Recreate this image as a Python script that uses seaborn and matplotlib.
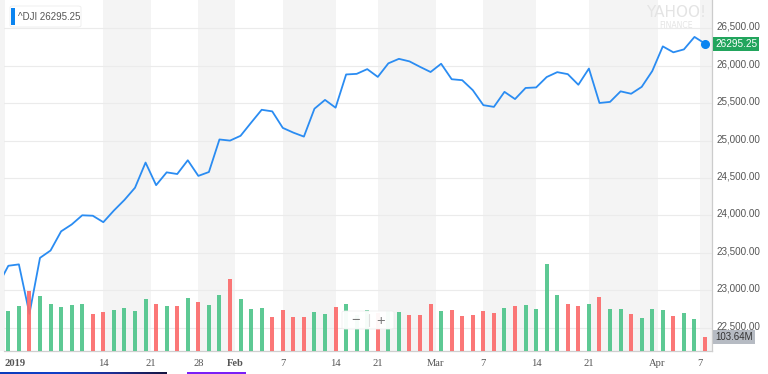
import numpy as np
import pandas as pd
import matplotlib
matplotlib.use("Agg")
import matplotlib.pyplot as plt
import matplotlib.transforms as mtrans
from matplotlib.patches import Rectangle, FancyBboxPatch
from matplotlib.colors import LinearSegmentedColormap
import seaborn as sns

# ---------------- data ----------------
dates = ["Dec 28", "Dec 31",
         "Jan 2", "Jan 3", "Jan 4", "Jan 7", "Jan 8", "Jan 9", "Jan 10", "Jan 11",
         "Jan 14", "Jan 15", "Jan 16", "Jan 17", "Jan 18", "Jan 22", "Jan 23", "Jan 24",
         "Jan 25", "Jan 28", "Jan 29", "Jan 30", "Jan 31",
         "Feb 1", "Feb 4", "Feb 5", "Feb 6", "Feb 7", "Feb 8", "Feb 11", "Feb 12", "Feb 13",
         "Feb 14", "Feb 15", "Feb 19", "Feb 20", "Feb 21", "Feb 22", "Feb 25", "Feb 26",
         "Feb 27", "Feb 28",
         "Mar 1", "Mar 4", "Mar 5", "Mar 6", "Mar 7", "Mar 8", "Mar 11", "Mar 12", "Mar 13",
         "Mar 14", "Mar 15", "Mar 18", "Mar 19", "Mar 20", "Mar 21", "Mar 22", "Mar 25",
         "Mar 26", "Mar 27", "Mar 28", "Mar 29",
         "Apr 1", "Apr 2", "Apr 3", "Apr 4", "Apr 8"]

closes = [23062.40, 23327.46,
          23346.24, 22686.22, 23433.16, 23531.35, 23787.45, 23879.12, 24001.92, 23995.95,
          23909.84, 24065.59, 24207.16, 24370.10, 24706.35, 24404.48, 24575.62, 24553.24,
          24737.20, 24528.22, 24579.96, 25014.86, 24999.67,
          25063.89, 25239.37, 25411.52, 25390.30, 25169.53, 25106.33, 25053.11, 25425.76,
          25543.27, 25439.39, 25883.25, 25891.32, 25954.44, 25850.63, 26031.81, 26091.95,
          26057.98, 25985.16, 25916.00,
          26026.32, 25819.65, 25806.63, 25673.46, 25473.23, 25450.24, 25650.88, 25554.66,
          25702.89, 25709.94, 25848.87, 25914.10, 25887.38, 25745.67, 25962.51, 25502.32,
          25516.83, 25657.73, 25625.59, 25717.46, 25928.68,
          26258.42, 26179.13, 26218.13, 26384.63, 26295.25]

# volume in millions, Dec 31 .. Apr 8 (no bar for Dec 28)
volumes = [298, 333, 446, 409, 350, 328, 340, 350, 274, 289,
           306, 318, 300, 387, 350, 335, 335, 394, 363, 345,
           417, 535, 387, 313, 323, 256, 306, 256, 252, 289,
           274, 326, 348, 266, 305, 280, 296, 293, 266, 266,
           348, 298, 306, 261, 266, 298, 281, 320, 333, 343,
           315, 644, 414, 352, 333, 348, 404, 315, 315, 276,
           244, 311, 306, 259, 281, 239, 103.64]

# x-axis labels placed on the trading-day index (holidays/weekends between days)
tick_labels = ["2019", "14", "21", "28", "Feb", "7", "14", "21", "Mar", "7", "14", "21", "Apr", "7"]
tick_pos = [-0.35, 9, 13.5, 18, 21.5, 26, 31, 35, 40.5, 45, 50, 55, 61.5, 65.5]
price_ticks = [22500, 23000, 23500, 24000, 24500, 25000, 25500, 26000, 26500]

# ---------------- frames ----------------
pos = np.arange(len(closes)) - 1          # Dec 28 sits just left of view
df_price = pd.DataFrame({"pos": pos, "close": closes, "date": dates})
chg = np.diff(np.array(closes))
df_vol = pd.DataFrame({"pos": pos[1:], "volume": volumes,
                       "dir": np.where(chg >= 0, "up", "down")})

# ---------------- style ----------------
sns.set_style("white")
plt.rcParams["font.family"] = ["Liberation Sans", "DejaVu Sans"]

W, H = 768, 374
fig = plt.figure(figsize=(W / 100, H / 100), dpi=100)

def fx(px):
    return px / W

def fy(py):
    return 1 - py / H

ax_left, ax_right, ax_bottom = 4, 712, 351.3
ax = fig.add_axes([fx(ax_left), fy(ax_bottom), fx(ax_right - ax_left), ax_bottom / H])

XMIN, XMAX = -0.41, 66.66
YMIN, YMAX = 22185, 26878

GRAY_BAND = "#f4f4f4"
LINE = "#2a8cf2"
GREEN = "#4fc58b"
RED = "#fb6b6b"

# weekly alternating background bands
bounds = [XMIN] + tick_pos + [XMAX]
for k in range(len(bounds) - 1):
    if k % 2 == 0:
        ax.axvspan(bounds[k], bounds[k + 1], color=GRAY_BAND, lw=0, zorder=0)
fig.patches.append(Rectangle((0, fy(ax_bottom)), fx(ax_left), ax_bottom / H,
                             transform=fig.transFigure, color=GRAY_BAND, lw=0))

for v in price_ticks:
    ax.axhline(v, color="#ebebeb", lw=0.8, zorder=1)

sns.lineplot(data=df_price, x="pos", y="close", ax=ax, color=LINE, lw=1.3, zorder=3)

ax.set_xlim(XMIN, XMAX)
ax.set_ylim(YMIN, YMAX)

# volume overlay
ax_v = ax.twinx()
sns.barplot(data=df_vol, x="pos", y="volume", hue="dir", native_scale=True,
            palette={"up": GREEN, "down": RED}, dodge=False, width=0.38,
            saturation=1, errorbar=None, legend=False, ax=ax_v, alpha=0.92,
            linewidth=0)
ax_v.set_ylim(0, 2600)
ax_v.set_xlim(XMIN, XMAX)
ax_v.set_yticks([])
ax_v.set_ylabel("")
ax_v.set_xlabel("")
for s in ax_v.spines.values():
    s.set_visible(False)
ax_v.patch.set_visible(False)

# last price dot
ax.plot(df_price["pos"].iloc[-1], df_price["close"].iloc[-1], "o", ms=5.5,
        color="#0a84f0", zorder=6, clip_on=False)

# axes styling
for s in ["top", "left"]:
    ax.spines[s].set_visible(False)
ax.spines["bottom"].set_color("#cfcfcf")
ax.spines["right"].set_color("#cccccc")
ax.spines["bottom"].set_linewidth(0.9)
ax.spines["right"].set_linewidth(0.9)
ax.set_xlabel("")
ax.set_ylabel("")

ax.yaxis.tick_right()
ax.set_yticks(price_ticks)
ax.set_yticklabels([f"{v:,.2f}" for v in price_ticks])
ax.tick_params(axis="y", length=0, pad=3, labelsize=7.1, labelcolor="#555555")
for lab in ax.get_yticklabels():
    lab.set_fontfamily(["Liberation Sans", "DejaVu Sans"])
    lab.set_transform(lab.get_transform() + mtrans.ScaledTranslation(0, 2.5 / 100, fig.dpi_scale_trans))

ax.set_xticks(tick_pos)
ax.set_xticklabels(tick_labels)
ax.tick_params(axis="x", length=3, width=0.8, color="#cccccc", pad=2.5,
               labelsize=7.6, labelcolor="#555555")
for lab in ax.get_xticklabels():
    lab.set_fontfamily(["Liberation Serif", "DejaVu Serif"])
    if lab.get_text() in ("2019", "Feb"):
        lab.set_fontweight("bold")
    if lab.get_text() == "2019":
        lab.set_horizontalalignment("left")

# price tag on the right axis
last_close = closes[-1]
ax.annotate(f"{last_close:.2f}", xy=(1, last_close), xycoords=ax.get_yaxis_transform(),
            xytext=(2.2, 0), textcoords="offset points", ha="left", va="center",
            fontsize=7.2, color="white", annotation_clip=False, zorder=10,
            bbox=dict(boxstyle="square,pad=0.2", fc="#22a55d", ec="none"))

# volume tag
last_vol = volumes[-1]
ax_v.annotate(f"{last_vol:.2f}M", xy=(1, last_vol), xycoords=ax_v.get_yaxis_transform(),
              xytext=(2.2, 0), textcoords="offset points", ha="left", va="center",
              fontsize=7.0, color="#333333", annotation_clip=False, zorder=10,
              bbox=dict(boxstyle="square,pad=0.22", fc="#b6bbc3", ec="none"))

# legend box top-left
fig.patches.append(FancyBboxPatch((fx(10), fy(27)), fx(71), 21 / H,
                                  boxstyle="round,pad=0,rounding_size=0.004",
                                  transform=fig.transFigure, fc="white", ec="#ececec", lw=0.6,
                                  zorder=20))
fig.patches.append(Rectangle((fx(11), fy(25)), fx(4), 17 / H, transform=fig.transFigure,
                             color="#0a84f0", lw=0, zorder=21))
fig.text(fx(18), fy(16.5), f"^DJI {last_close:.2f}", ha="left", va="center",
         fontsize=7.0, color="#555555", zorder=22)

# watermark
fig.text(fx(676), fy(12.5), "YAHOO!", ha="center", va="center", fontsize=11,
         color="#e4e4e4", family=["DejaVu Sans"], zorder=2)
fig.text(fx(676), fy(25), "FINANCE", ha="center", va="center", fontsize=5.6,
         color="#e4e4e4", family=["DejaVu Sans"], zorder=2)

# zoom control
fig.patches.append(FancyBboxPatch((fx(342), fy(329)), fx(52), 18 / H,
                                  boxstyle="round,pad=0,rounding_size=0.004",
                                  transform=fig.transFigure, fc="white", ec="#eeeeee",
                                  lw=0.6, alpha=0.95, zorder=20))
fig.text(fx(355), fy(320.5), "\u2212", ha="center", va="center", fontsize=10.5,
         color="#777777", zorder=21)
fig.text(fx(381), fy(320.5), "+", ha="center", va="center", fontsize=10.5,
         color="#777777", zorder=21)
fig.lines.append(plt.Line2D([fx(368.5), fx(368.5)], [fy(314), fy(326)],
                            transform=fig.transFigure, color="#dddddd", lw=0.8, zorder=21))

# navigator strips at the bottom
grad_ax = fig.add_axes([0, 0, fx(167), 2.4 / H])
cmap = LinearSegmentedColormap.from_list("nav", ["#0a3cbc", "#1140c8", "#1d2f96", "#151540"])
grad_ax.imshow(np.linspace(0, 1, 256)[None, :], aspect="auto", cmap=cmap)
grad_ax.set_axis_off()
fig.patches.append(Rectangle((fx(186.7), 0), fx(59), 2.4 / H, transform=fig.transFigure,
                             color="#7a20f6", lw=0))

fig.savefig("out.png", dpi=100)
